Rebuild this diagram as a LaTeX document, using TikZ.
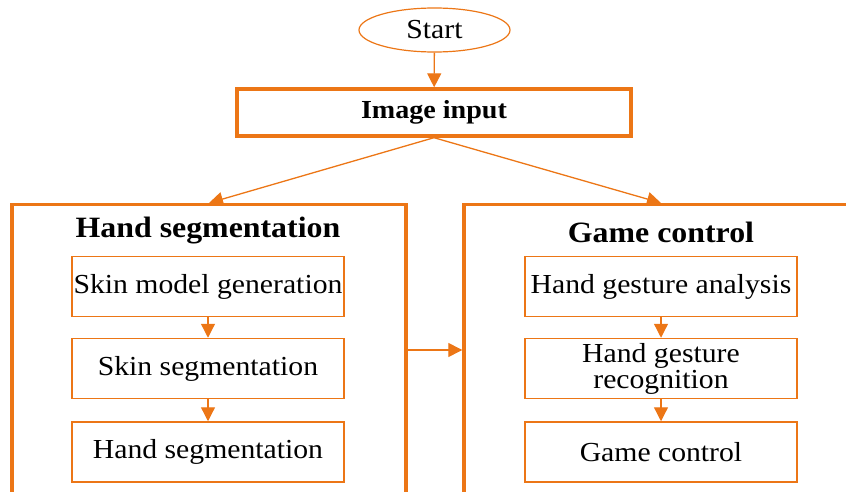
\documentclass[tikz,border=0pt]{standalone}
\usepackage{fontspec}
\setmainfont[FakeStretch=1.08]{Liberation Serif}
\usetikzlibrary{arrows.meta,shapes.geometric}
\definecolor{flow}{RGB}{236,118,22}
\tikzset{
  arr/.style={draw=flow, line width=1.3pt, -{Triangle[length=14pt,width=14pt]}},
  thinarr/.style={draw=flow, line width=1.3pt, -{Triangle[length=14pt,width=14pt]}},
  stepbox/.style={draw=flow, line width=1.5pt, minimum width=272pt, minimum height=60pt,
    inner sep=0pt, align=center, font=\fontsize{27.5}{26}\selectfont},
  bigbox/.style={draw=flow, line width=3.4pt, minimum width=394pt, minimum height=330pt,
    inner sep=0pt, anchor=north},
  title/.style={font=\fontsize{29.5}{32}\selectfont\bfseries, inner sep=0pt},
}
\begin{document}
\begin{tikzpicture}[x=1pt,y=-1pt]
\useasboundingbox (0,0) rectangle (846,492);
\clip (0,0) rectangle (846,492);

% start and input
\node[ellipse, draw=flow, line width=1.2pt, minimum width=151pt, minimum height=44pt,
  inner sep=0pt, font=\fontsize{27.5}{26}\selectfont] (start) at (434.5,30) {Start};
\node[draw=flow, line width=3.4pt, minimum width=394pt, minimum height=47pt, inner sep=0pt,
  font=\fontsize{26}{28}\selectfont\bfseries] (input) at (434,112.5) {Image input};

% two stage frames
\node[bigbox] (segbig) at (209,203) {};
\node[bigbox] (gamebig) at (661,203) {};
\node[title] (segtitle) at (208,231) {Hand segmentation};
\node[title] (gametitle) at (661,232) {Game control};

% hand segmentation steps
\node[stepbox] (s1) at (208,286.5) {Skin model generation};
\node[stepbox] (s2) at (208,368.5) {Skin segmentation};
\node[stepbox] (s3) at (208,452) {Hand segmentation};

% game control steps
\node[stepbox] (g1) at (661,286.5) {Hand gesture analysis};
\node[stepbox, font=\fontsize{27.5}{26}\selectfont] (g2) at (661,368.5) {Hand gesture\\recognition};
\node[stepbox] (g3) at (661,452) {Game control};

% connectors
\draw[arr] (start) -- (input);
\draw[arr] (input.south) -- (segbig.north);
\draw[arr] (input.south) -- (gamebig.north);
\draw[thinarr] (s1) -- (s2);
\draw[thinarr] (s2) -- (s3);
\draw[thinarr] (g1) -- (g2);
\draw[thinarr] (g2) -- (g3);
\draw[arr] ([yshift=-147pt]segbig.north east) -- ([yshift=-147pt]gamebig.north west);
\end{tikzpicture}
\end{document}
